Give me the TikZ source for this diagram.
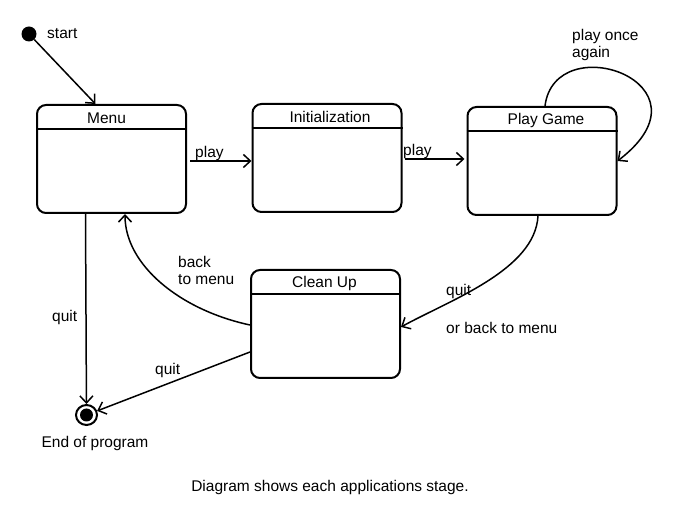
\documentclass[tikz,border=0pt]{standalone}
\usepackage{fontspec}
\setmainfont{Liberation Sans}
\usetikzlibrary{arrows.meta,shapes.geometric,calc}
\begin{document}
\begin{tikzpicture}[x=1pt,y=-1pt,
  every node/.style={font=\fontsize{15.5}{18}\selectfont, inner sep=0pt},
  statebox/.style={draw, line width=2pt, rounded corners=9pt, minimum width=149pt, minimum height=108pt},
  hdr/.style={anchor=center},
  conn/.style={draw, line width=1.5pt, -{Straight Barb[length=7pt,width=13pt,line width=1.5pt]}},
  lbl/.style={align=left, anchor=west}
]
\useasboundingbox (0,0) rectangle (673,521);
% states
\node[statebox] (menu) at (111.5,159) {};
\node[statebox] (init) at (327,158) {};
\node[statebox] (play) at (542,161) {};
\node[statebox] (clean) at (325.5,324) {};
% header lines
\draw[line width=1.6pt] ($(menu.north west)+(0,25)$) -- ($(menu.north east)+(0,25)$);
\draw[line width=1.6pt] ($(init.north west)+(0,25)$) -- ($(init.north east)+(0,25)$);
\draw[line width=1.6pt] ($(play.north west)+(0,25)$) -- ($(play.north east)+(0,25)$);
\draw[line width=1.6pt] ($(clean.north west)+(0,25)$) -- ($(clean.north east)+(0,25)$);
% titles
\node[hdr] (tmenu) at ($(menu.north)+(-5,14)$) {Menu};
\node[hdr] (tinit) at ($(init.north)+(3,14)$) {Initialization};
\node[hdr] (tplay) at ($(play.north)+(4,14)$) {Play Game};
\node[hdr] (tclean) at ($(clean.north)+(-1,14)$) {Clean Up};
% start and end
\node[circle, fill=black, minimum size=15pt] (start) at (29,34) {};
\node[ellipse, draw, line width=2pt, minimum width=21pt, minimum height=20pt] (end) at (86.5,415) {};
\node[circle, fill=black, minimum size=13pt] (endin) at (86.5,415) {};
\node[lbl] (lstart) at (47,34) {start};
\node[anchor=center] (lend) at (95,443) {End of program};
% connectors
\draw[conn] (start) -- ($(menu.north)+(-16,0)$);
\draw[conn] ($(menu.east)+(3,2)$) -- ($(init.west)+(0,3)$);
\node[lbl] (lp1) at (195,153) {play};
\draw[conn] ($(init.east)+(2,1)$) -- ($(play.west)+(-2,-2)$);
\node[lbl] (lp2) at (403,151) {play};
\draw[conn] ($(play.north)+(3,0)$) .. controls +(10,-80) and +(102,-78) .. (play.east);
\node[lbl] (lloop) at (572,45) {play once\\[-1pt]again};
\draw[conn] ($(play.south)+(-4,0)$) .. controls (535,270) and (450,300) .. ($(clean.east)+(0,3)$);
\node[lbl] (lq1) at (446,291) {quit};
\node[lbl] (lq2) at (446,328) {or back to menu};
\draw[conn] ($(clean.west)+(0,1)$) .. controls (180,310) and (125,265) .. ($(menu.south)+(13.5,0)$);
\node[lbl] (lback) at (178,270) {back\\[-1pt]to menu};
\draw[conn] ($(menu.south)+(-26,0)$) -- (end);
\node[lbl] (lq3) at (52,317) {quit};
\draw[conn] ($(clean.west)+(0,28)$) -- (end);
\node[lbl] (lq4) at (155,370) {quit};
\node[anchor=center] (cap) at (330,487) {Diagram shows each applications stage.};
\end{tikzpicture}
\end{document}
